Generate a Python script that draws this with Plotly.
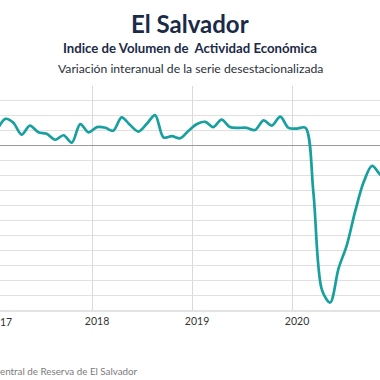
import plotly.graph_objects as go

months = (
    [f"2017-{m:02d}-01" for m in range(1, 13)]
    + [f"2018-{m:02d}-01" for m in range(1, 13)]
    + [f"2019-{m:02d}-01" for m in range(1, 13)]
    + [f"2020-{m:02d}-01" for m in range(1, 13)]
)
values_2017 = [2.1, 3.6, 3.1, 1.5, 2.7, 1.8, 1.6, 0.8, 1.4, 0.4, 2.9, 1.8]
values_2018 = [2.5, 2.4, 2.0, 3.8, 2.8, 1.9, 2.9, 4.1, 1.1, 1.3, 1.0, 2.0]
values_2019 = [2.9, 3.2, 2.5, 3.5, 2.5, 2.4, 2.4, 2.1, 3.4, 2.7, 3.9, 2.4]
values_2020 = [2.3, 2.4, -6.3, -19.3, -21.0, -16.4, -13.3, -8.7, -4.8, -2.7, -3.9, -4.5]
values = values_2017 + values_2018 + values_2019 + values_2020

tick_vals = ["2017-12-14", "2018-12-14", "2019-12-14"]
tick_text = ["2018", "2019", "2020"]
partial_tick = "17"

title = "El Salvador"
subtitle = "Indice de Volumen de  Actividad Económica"
subtitle2 = "Variación interanual de la serie desestacionalizada"
source = "entral de Reserva de El Salvador"

FONT = "Lato"
NAVY = "#1b2a47"
TEAL = "#17a09f"

fig = go.Figure()
fig.add_trace(go.Scatter(
    x=months, y=values, mode="lines",
    line=dict(color=TEAL, width=2.7, shape="spline", smoothing=0.9),
    hoverinfo="x+y", showlegend=False,
))

fig.update_layout(
    width=380, height=380,
    margin=dict(l=0, r=0, t=86, b=70),
    paper_bgcolor="white", plot_bgcolor="white",
    font=dict(family=FONT, color="#333333"),
    xaxis=dict(
        range=["2017-01-12", "2020-10-30"],
        tickvals=tick_vals, ticktext=tick_text,
        ticklabelshift=5,
        showgrid=True, gridcolor="#d9d9d9", gridwidth=1,
        showline=True, linecolor="#e3e3e3", linewidth=2,
        ticks="", tickfont=dict(size=10.5, color="#333333"),
        zeroline=False,
    ),
    yaxis=dict(
        range=[-22, 8], dtick=2,
        showgrid=True, gridcolor="#e0e0e0", gridwidth=1,
        zeroline=True, zerolinecolor="#9a9a9a", zerolinewidth=1,
        showticklabels=False, ticks="",
    ),
    annotations=[
        dict(text=f"<b>{title}</b>", xref="paper", yref="paper", x=0.5, y=(310 - 23) / 224,
             xanchor="center", yanchor="middle", showarrow=False,
             font=dict(size=24, color=NAVY, family=FONT)),
        dict(text=f"<b>{subtitle}</b>", xref="paper", yref="paper", x=0.5, y=(310 - 48) / 224,
             xanchor="center", yanchor="middle", showarrow=False,
             font=dict(size=13.2, color=NAVY, family=FONT)),
        dict(text=subtitle2, xref="paper", yref="paper", x=0.5, y=(310 - 69) / 224,
             xanchor="center", yanchor="middle", showarrow=False,
             font=dict(size=12.2, color="#2a2f3a", family=FONT)),
        dict(text=partial_tick, xref="paper", yref="paper", x=-2 / 380, y=(310 - 322) / 224,
             xanchor="left", yanchor="middle", showarrow=False,
             font=dict(size=10.5, color="#333333", family=FONT)),
        dict(text=source, xref="paper", yref="paper", x=-2 / 380, y=(310 - 371) / 224,
             xanchor="left", yanchor="middle", showarrow=False,
             font=dict(size=9.8, color="#7a7a7a", family=FONT)),
    ],
)

fig.write_html("out.html", post_script="document.body.style.margin='0';",
               config={"displayModeBar": False})
